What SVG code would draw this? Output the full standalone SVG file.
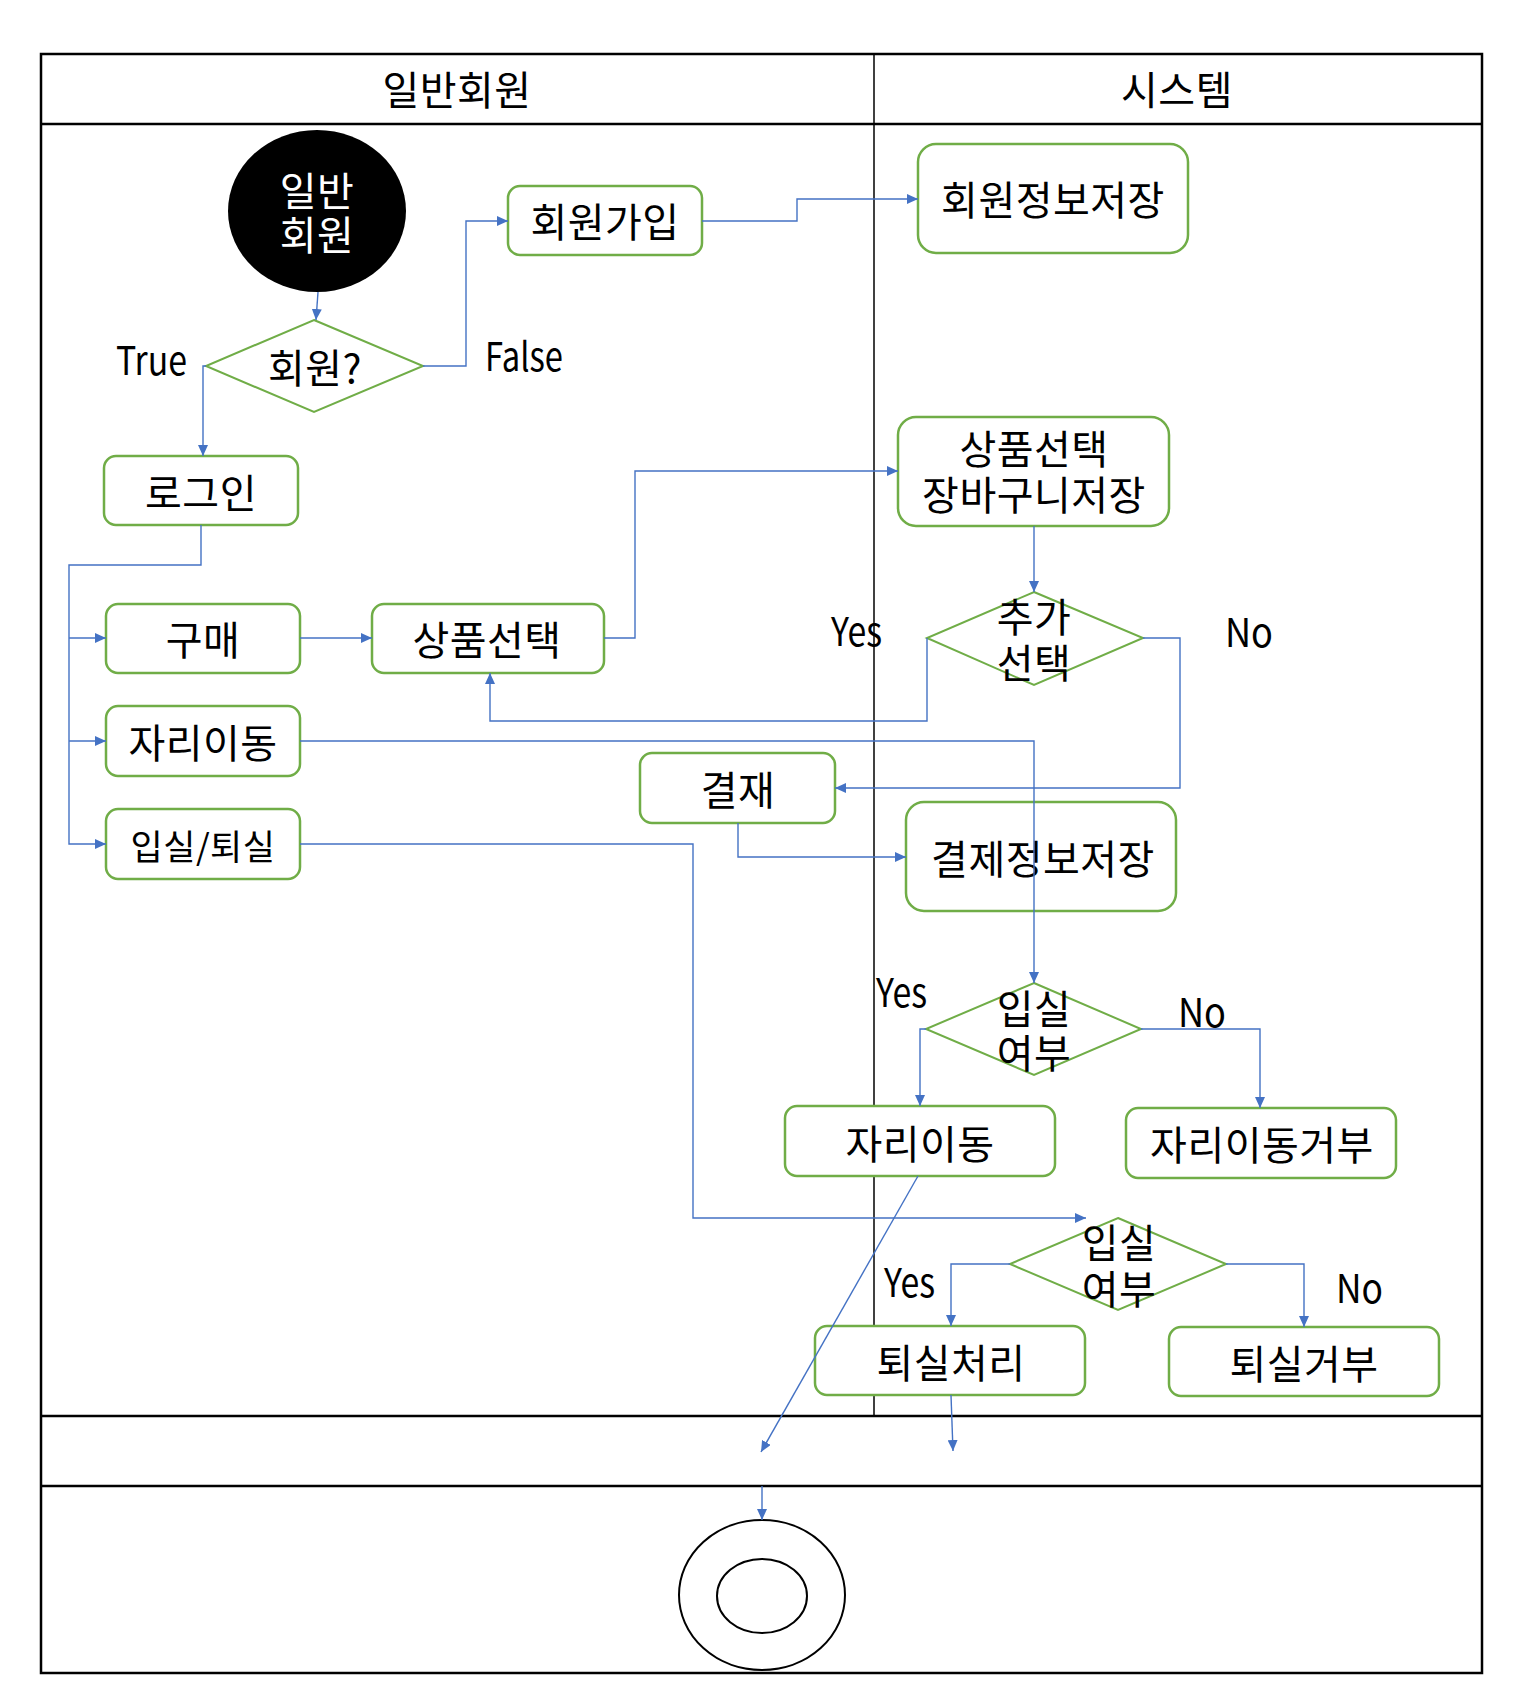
<svg xmlns="http://www.w3.org/2000/svg" width="1516" height="1702" viewBox="0 0 1516 1702">
<style>
.lane{fill:none;stroke:#000;stroke-width:2.5}
.div{stroke:#000;stroke-width:1.5}
.box{fill:#fff;stroke:#70AD47;stroke-width:2.5}
.dia{fill:#fff;stroke:#70AD47;stroke-width:2}
.ko{font-family:"Noto Sans CJK KR","Noto Sans",sans-serif;font-size:40px;letter-spacing:0.5px;fill:#000;text-anchor:middle;dominant-baseline:central}
.lat{font-family:"Noto Sans CJK KR","Noto Sans",sans-serif;font-size:40px;fill:#000}
.c{fill:none;stroke:#4472C4;stroke-width:1.4}
.a{marker-end:url(#ah)}
</style>
<defs>
<marker id="ah" markerUnits="userSpaceOnUse" markerWidth="12" markerHeight="10" refX="11" refY="5" orient="auto">
<path d="M0,0 L11,5 L0,10 z" fill="#4472C4"/>
</marker>
</defs>
<rect width="1516" height="1702" fill="#fff"/>
<g id="lanes">
<rect class="lane" x="41" y="54" width="1441" height="1619"/>
<line class="lane" x1="41" y1="124" x2="1482" y2="124"/>
<line class="div" x1="874" y1="54" x2="874" y2="1416"/>
<line class="lane" x1="41" y1="1416" x2="1482" y2="1416"/>
<line class="lane" x1="41" y1="1486" x2="1482" y2="1486"/>
<text class="ko" x="457" y="88">일반회원</text>
<text class="ko" x="1177" y="88">시스템</text>
</g>
<g id="start">
<ellipse cx="317" cy="211" rx="89" ry="81" fill="#000"/>
<text class="ko" x="317" y="189" style="fill:#fff">일반</text>
<text class="ko" x="317" y="233" style="fill:#fff">회원</text>
</g>
<g id="d-member">
<polygon class="dia" points="314,320 423,366 314,412 206,366"/>
<text class="ko" x="315" y="366">회원?</text>
</g>
<text class="lat" x="116" y="375" textLength="71" lengthAdjust="spacingAndGlyphs">True</text>
<text class="lat" x="485" y="371" textLength="78" lengthAdjust="spacingAndGlyphs">False</text>
<g id="n-join"><rect class="box" x="508" y="186" width="194" height="69" rx="12"/><text class="ko" x="605" y="220">회원가입</text></g>
<g id="n-saveinfo"><rect class="box" x="918" y="144" width="270" height="109" rx="18"/><text class="ko" x="1053" y="198">회원정보저장</text></g>
<g id="n-login"><rect class="box" x="104" y="456" width="194" height="69" rx="12"/><text class="ko" x="201" y="491">로그인</text></g>
<g id="n-buy"><rect class="box" x="106" y="604" width="194" height="69" rx="12"/><text class="ko" x="203" y="638">구매</text></g>
<g id="n-select"><rect class="box" x="372" y="604" width="232" height="69" rx="12"/><text class="ko" x="487" y="638">상품선택</text></g>
<g id="n-move"><rect class="box" x="106" y="706" width="194" height="70" rx="12"/><text class="ko" x="203" y="741">자리이동</text></g>
<g id="n-inout"><rect class="box" x="106" y="809" width="194" height="70" rx="12"/><text class="ko" x="203" y="844" style="font-size:35px">입실/퇴실</text></g>
<g id="n-cart"><rect class="box" x="898" y="417" width="271" height="109" rx="18"/><text class="ko" x="1034" y="447">상품선택</text><text class="ko" x="1034" y="493">장바구니저장</text></g>
<g id="d-more">
<polygon class="dia" points="1034,592 1143,638 1034,685 927,638"/>
<text class="ko" x="1034" y="615">추가</text>
<text class="ko" x="1034" y="661">선택</text>
</g>
<text class="lat" x="831" y="646" textLength="51" lengthAdjust="spacingAndGlyphs">Yes</text>
<text class="lat" x="1225" y="647" textLength="48" lengthAdjust="spacingAndGlyphs">No</text>
<g id="n-pay"><rect class="box" x="640" y="753" width="195" height="70" rx="12"/><text class="ko" x="738" y="788">결재</text></g>
<g id="n-payinfo"><rect class="box" x="906" y="802" width="270" height="109" rx="18"/><text class="ko" x="1043" y="857">결제정보저장</text></g>
<g id="d-in1">
<polygon class="dia" points="1034,983 1141,1029 1034,1075 926,1029"/>
<text class="ko" x="1034" y="1007">입실</text>
<text class="ko" x="1034" y="1051">여부</text>
</g>
<text class="lat" x="876" y="1007" textLength="51" lengthAdjust="spacingAndGlyphs">Yes</text>
<text class="lat" x="1178" y="1027" textLength="48" lengthAdjust="spacingAndGlyphs">No</text>
<g id="n-move2"><rect class="box" x="785" y="1106" width="270" height="70" rx="12"/><text class="ko" x="920" y="1142">자리이동</text></g>
<g id="n-moveno"><rect class="box" x="1126" y="1108" width="270" height="70" rx="12"/><text class="ko" x="1262" y="1143">자리이동거부</text></g>
<g id="d-in2">
<polygon class="dia" points="1118,1218 1226,1264 1118,1310 1010,1264"/>
<text class="ko" x="1119" y="1241">입실</text>
<text class="ko" x="1119" y="1287">여부</text>
</g>
<text class="lat" x="884" y="1297" textLength="51" lengthAdjust="spacingAndGlyphs">Yes</text>
<text class="lat" x="1336" y="1303" textLength="47" lengthAdjust="spacingAndGlyphs">No</text>
<g id="n-out"><rect class="box" x="815" y="1326" width="270" height="69" rx="12"/><text class="ko" x="951" y="1361">퇴실처리</text></g>
<g id="n-outno"><rect class="box" x="1169" y="1327" width="270" height="69" rx="12"/><text class="ko" x="1304" y="1362">퇴실거부</text></g>
<g id="end">
<ellipse cx="762" cy="1595" rx="83" ry="75" fill="#fff" stroke="#000" stroke-width="2"/>
<ellipse cx="762" cy="1596" rx="45" ry="37" fill="none" stroke="#000" stroke-width="2"/>
</g>
<g id="connectors">
<path class="c a" d="M318,292 L316,320"/>
<path class="c a" d="M206,366 L203,366 L203,456"/>
<path class="c a" d="M423,366 L466,366 L466,221 L508,221"/>
<path class="c a" d="M702,221 L797,221 L797,199 L918,199"/>
<path class="c a" d="M201,525 L201,565 L69,565 L69,844 L106,844"/>
<path class="c a" d="M69,638 L106,638"/>
<path class="c a" d="M69,741 L106,741"/>
<path class="c a" d="M300,638 L372,638"/>
<path class="c a" d="M604,638 L635,638 L635,471 L898,471"/>
<path class="c a" d="M1034,526 L1034,592"/>
<path class="c a" d="M927,638 L927,721 L490,721 L490,673"/>
<path class="c a" d="M1143,638 L1180,638 L1180,788 L835,788"/>
<path class="c a" d="M738,823 L738,857 L906,857"/>
<path class="c a" d="M300,741 L1034,741 L1034,983"/>
<path class="c a" d="M300,844 L693,844 L693,1218 L1086,1218"/>
<path class="c a" d="M926,1029 L920,1029 L920,1106"/>
<path class="c a" d="M1141,1029 L1260,1029 L1260,1108"/>
<path class="c a" d="M1010,1264 L951,1264 L951,1326"/>
<path class="c a" d="M1226,1264 L1304,1264 L1304,1327"/>
<path class="c a" d="M918,1176 L761,1452"/>
<path class="c a" d="M951,1395 L953,1451"/>
<path class="c a" d="M762,1486 L762,1520"/>
</g>
</svg>
